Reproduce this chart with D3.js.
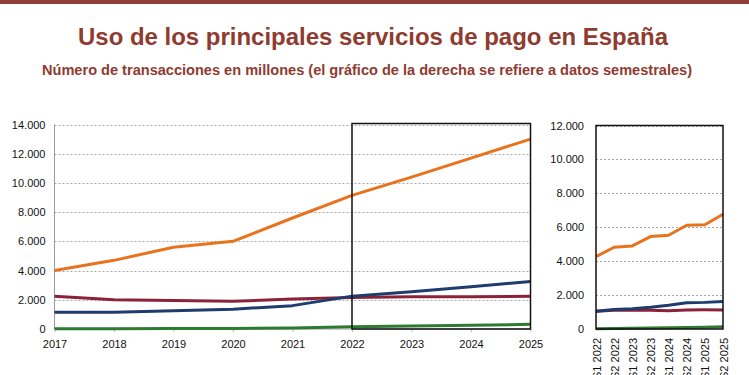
<!DOCTYPE html>
<html><head><meta charset="utf-8">
<script src="https://cdn.jsdelivr.net/npm/d3@7/dist/d3.min.js"></script>
<style>body{margin:0;background:#fff}svg{display:block}</style>
</head><body>
<svg id="c" width="749" height="375"></svg>
<script>
// ---- data ----
const years = ["2017","2018","2019","2020","2021","2022","2023","2024","2025"];
const annualOrange = [4000,4700,5600,6000,7600,9150,10400,11700,13000];
const annualMaroon = [2250,2000,1950,1900,2050,2150,2200,2200,2250];
const annualBlue   = [1150,1150,1250,1350,1600,2250,2550,2900,3250];
const annualGreen  = [20,25,30,40,60,150,200,250,320];
const semesters = ["S1 2022","S2 2022","S1 2023","S2 2023","S1 2024","S2 2024","S1 2025","S2 2025"];
const semOrange = [4270,4820,4900,5450,5530,6120,6150,6770];
const semMaroon = [1050,1100,1100,1100,1080,1120,1130,1120];
const semBlue   = [1050,1150,1200,1280,1400,1550,1570,1620];
const semGreen  = [20,30,40,60,70,90,110,130];
const leftTicks = [0,2000,4000,6000,8000,10000,12000,14000];
const rightTicks = [0,2000,4000,6000,8000,10000,12000];
const title = "Uso de los principales servicios de pago en España";
const subtitle = "Número de transacciones en millones (el gráfico de la derecha se refiere a datos semestrales)";

const colors = {orange:"#E8731F", maroon:"#8C2238", blue:"#1E3C6E", green:"#2F7A31"};
const fmt = v => d3.format(",")(v).replace(/,/g,".");

const svg = d3.select("#c");
svg.append("rect").attr("x",0).attr("y",0).attr("width",749).attr("height",4).attr("fill","#8E4036");
svg.append("text").attr("x",373).attr("y",45).attr("text-anchor","middle")
  .attr("font-family","Liberation Sans, Arial, sans-serif").attr("font-weight","bold")
  .attr("font-size",24).attr("fill","#8E3B30")
  .attr("textLength",590).attr("lengthAdjust","spacingAndGlyphs").text(title);
svg.append("text").attr("x",367).attr("y",75).attr("text-anchor","middle")
  .attr("font-family","Liberation Sans Narrow, Arial Narrow, Liberation Sans, sans-serif").attr("font-weight","bold")
  .attr("font-size",14.5).attr("fill","#8E3B30")
  .attr("textLength",650).attr("lengthAdjust","spacingAndGlyphs").text(subtitle);

const font = "Liberation Sans, Arial, sans-serif";

// ---- left chart ----
const xL = d3.scalePoint().domain(years).range([54.5,530.5]);
const yL = d3.scaleLinear().domain([0,14000]).range([329,124.5]);
const gL = svg.append("g");
gL.selectAll(".g").data(leftTicks.filter(d=>d>0)).join("line")
  .attr("x1",54.5).attr("x2",530.5).attr("y1",d=>Math.round(yL(d))+0.5).attr("y2",d=>Math.round(yL(d))+0.5)
  .attr("stroke","#a8a8a8").attr("stroke-width",1).attr("stroke-dasharray","2,2");
gL.append("line").attr("x1",54.5).attr("x2",54.5).attr("y1",124.5).attr("y2",329).attr("stroke","#9a9a9a");
gL.append("line").attr("x1",54.5).attr("x2",530.5).attr("y1",329).attr("y2",329).attr("stroke","#9a9a9a");
const yAxL = d3.axisLeft(yL).tickValues(leftTicks).tickFormat(fmt).tickSize(0).tickPadding(9);
gL.append("g").attr("transform","translate(54.5,0)").call(yAxL)
  .call(g=>g.select(".domain").remove())
  .selectAll("text").attr("font-family",font).attr("font-size",11).attr("fill","#111");
const xAxL = d3.axisBottom(xL).tickSize(3).tickPadding(8);
gL.append("g").attr("transform","translate(0,329)").call(xAxL)
  .call(g=>g.select(".domain").remove())
  .call(g=>g.selectAll("line").attr("stroke","#bbb"))
  .selectAll("text").attr("font-family",font).attr("font-size",11).attr("fill","#111");

const lineL = d3.line().x((d,i)=>xL(years[i])).y(d=>yL(d));
[[annualGreen,colors.green],[annualMaroon,colors.maroon],[annualBlue,colors.blue],[annualOrange,colors.orange]].forEach(([arr,c])=>{
  gL.append("path").datum(arr).attr("d",lineL).attr("fill","none").attr("stroke",c).attr("stroke-width",3).attr("stroke-linejoin","round");
});
gL.append("rect").attr("x",xL("2022")).attr("y",123.5).attr("width",xL("2025")-xL("2022")).attr("height",329-123.5)
  .attr("fill","none").attr("stroke","#111").attr("stroke-width",1.5);

// ---- right chart ----
const xR = d3.scalePoint().domain(semesters).range([596,723]);
const yR = d3.scaleLinear().domain([0,12000]).range([329,125.5]);
const gR = svg.append("g");
gR.selectAll(".g").data(rightTicks.filter(d=>d>0)).join("line")
  .attr("x1",596).attr("x2",723).attr("y1",d=>Math.round(yR(d))+0.5).attr("y2",d=>Math.round(yR(d))+0.5)
  .attr("stroke","#a8a8a8").attr("stroke-width",1).attr("stroke-dasharray","2,2");
const yAxR = d3.axisLeft(yR).tickValues(rightTicks).tickFormat(fmt).tickSize(0).tickPadding(12);
gR.append("g").attr("transform","translate(596,0)").call(yAxR)
  .call(g=>g.select(".domain").remove())
  .selectAll("text").attr("font-family",font).attr("font-size",11).attr("fill","#111");
const xAxR = d3.axisBottom(xR).tickSize(0).tickPadding(0);
gR.append("g").attr("transform","translate(0,329)").call(xAxR)
  .call(g=>g.select(".domain").remove())
  .selectAll("text").attr("font-family",font).attr("font-size",11).attr("fill","#111")
  .attr("text-anchor","end").attr("dy",null).attr("y",0)
  .attr("transform","translate(4,9) rotate(-90)");
const lineR = d3.line().x((d,i)=>xR(semesters[i])).y(d=>yR(d));
[[semGreen,colors.green],[semMaroon,colors.maroon],[semBlue,colors.blue],[semOrange,colors.orange]].forEach(([arr,c])=>{
  gR.append("path").datum(arr).attr("d",lineR).attr("fill","none").attr("stroke",c).attr("stroke-width",3).attr("stroke-linejoin","round");
});
gR.append("rect").attr("x",596).attr("y",125.5).attr("width",723-596).attr("height",329-125.5)
  .attr("fill","none").attr("stroke","#111").attr("stroke-width",1.5);
</script>
</body></html>
